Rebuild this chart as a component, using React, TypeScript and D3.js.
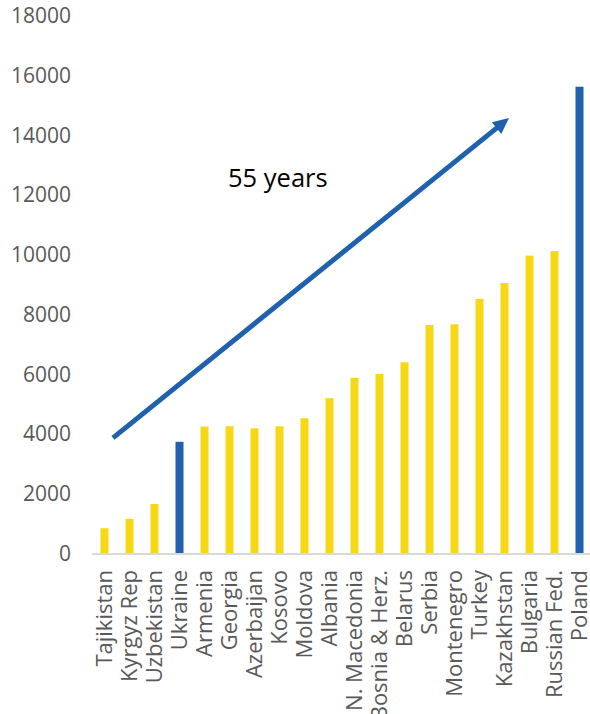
import React from "react";
import * as d3 from "d3";

const categories = [
  "Tajikistan", "Kyrgyz Rep", "Uzbekistan", "Ukraine", "Armenia", "Georgia",
  "Azerbaijan", "Kosovo", "Moldova", "Albania", "N. Macedonia", "Bosnia & Herz.",
  "Belarus", "Serbia", "Montenegro", "Turkey", "Kazakhstan", "Bulgaria",
  "Russian Fed.", "Poland",
];
const values = [
  830, 1140, 1640, 3720, 4230, 4240, 4170, 4240, 4510, 5180, 5860, 5990,
  6380, 7630, 7650, 8500, 9030, 9950, 10100, 15600,
];
const highlighted = ["Ukraine", "Poland"];
const yTicks = [0, 2000, 4000, 6000, 8000, 10000, 12000, 14000, 16000, 18000];
// arrow annotation, in (category index, value) terms
const arrowFrom = { pos: 0.34, value: 3850 };
const arrowTo = { pos: 16.18, value: 14550 };
const annotation = { text: "55 years", pos: 4.94, value: 12250 };

const W = 590;
const H = 714;
const YELLOW = "#F6D912";
const BLUE = "#1F61AD";

export default function App() {
  const x = d3
    .scaleBand<string>()
    .domain(categories)
    .range([92, 592])
    .paddingInner(0.68)
    .paddingOuter(0.34);
  const y = d3.scaleLinear().domain([0, 18000]).range([553, 15]);
  const step = x.step();
  const x0 = (x(categories[0]) as number) + x.bandwidth() / 2;
  const xPos = (p: number) => x0 + p * step;

  const ax1 = xPos(arrowFrom.pos);
  const ay1 = y(arrowFrom.value);
  const ax2 = xPos(arrowTo.pos);
  const ay2 = y(arrowTo.value);
  const ang = Math.atan2(ay2 - ay1, ax2 - ax1);
  const headLen = 16;
  const headHalf = 7.5;
  const bx = ax2 - headLen * Math.cos(ang);
  const by = ay2 - headLen * Math.sin(ang);
  const px = -Math.sin(ang);
  const py = Math.cos(ang);
  const head = [
    [ax2, ay2],
    [bx + headHalf * px, by + headHalf * py],
    [bx - headHalf * px, by - headHalf * py],
  ];

  const font = "'Open Sans', 'DejaVu Sans', sans-serif";

  return (
    <svg
      width={W}
      height={H}
      style={{ position: "absolute", left: 0, top: 0, background: "#fff" }}
    >
      <rect x={0} y={0} width={W} height={H} fill="#fff" />
      {yTicks.map((t) => (
        <text
          key={t}
          x={71}
          y={y(t)}
          textAnchor="end"
          dominantBaseline="central"
          fontFamily={font}
          fontSize={21}
          fill="#595959"
        >
          {t}
        </text>
      ))}
      {categories.map((c, i) => (
        <rect
          key={c}
          x={x(c)}
          y={y(values[i])}
          width={x.bandwidth()}
          height={y(0) - y(values[i])}
          fill={highlighted.includes(c) ? BLUE : YELLOW}
        />
      ))}
      <line x1={92} x2={W} y1={y(0) + 1} y2={y(0) + 1} stroke="#D9D9D9" strokeWidth={2} />
      {categories.map((c) => {
        const cx = (x(c) as number) + x.bandwidth() / 2;
        return (
          <text
            key={c}
            transform={`translate(${cx},570) rotate(-90)`}
            textAnchor="end"
            dy="0.35em"
            fontFamily={font}
            fontSize={22}
            fill="#595959"
          >
            {c}
          </text>
        );
      })}
      <line x1={ax1} y1={ay1} x2={bx + 2 * Math.cos(ang)} y2={by + 2 * Math.sin(ang)} stroke={BLUE} strokeWidth={5} />
      <polygon points={head.map((p) => p.join(",")).join(" ")} fill={BLUE} />
      <text
        x={xPos(annotation.pos)}
        y={y(annotation.value)}
        fontFamily={font}
        fontSize={25.5}
        fill="#000"
      >
        {annotation.text}
      </text>
    </svg>
  );
}
